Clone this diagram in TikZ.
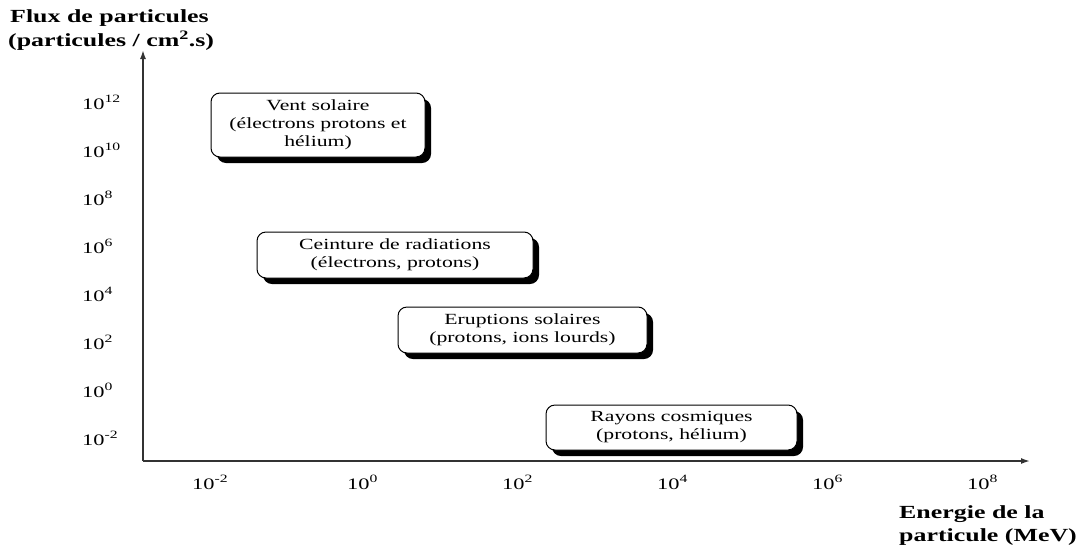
\documentclass[tikz,border=0pt]{standalone}
\usepackage{fontspec}
\setmainfont{Liberation Serif}[FakeStretch=1.4]
\usetikzlibrary{arrows.meta,shadows}
\newcommand{\pw}[1]{10\textsuperscript{#1}}

\begin{document}
\begin{tikzpicture}[x=1pt,y=-1pt,%
  axe/.style={-{Latex[length=9pt,width=6pt]},line width=1.6pt,black!80},%
  boite/.style={draw,line width=1pt,rounded corners=9pt,fill=white,align=center,%
    font=\fontsize{15.5}{18}\selectfont,%
    drop shadow={shadow xshift=6pt,shadow yshift=-6pt,fill=black,opacity=1}},%
  tick/.style={font=\fontsize{16}{18}\selectfont,inner sep=0pt,anchor=base west},%
  titre/.style={font=\bfseries\fontsize{18.5}{22}\selectfont,inner sep=0pt,anchor=base west}%
  ]
  \useasboundingbox (0,0) rectangle (1083,544);
%
  \coordinate (o) at (143,461);
  \coordinate (ytop) at (143,50);
  \coordinate (xend) at (1030,461);
  \draw[axe] (o) -- (ytop);
  \draw[axe] (o) -- (xend);
%
  \foreach \e [count=\i from 0] in {12,10,8,6,4,2,0,-2}
    \node (y\i) [tick] at (82,109+48*\i) {\pw{\e}};
  \foreach \e [count=\i from 0] in {-2,0,2,4,6,8}
    \node (x\i) [tick] at (192+155*\i,489) {\pw{\e}};
%
  \node (yt1) [titre] at (10,22) {Flux de particules};
  \node (yt2) [titre] at (8,46) {(particules / cm\textsuperscript{2}.s)};
  \node (xt1) [titre] at (899,518) {Energie de la};
  \node (xt2) [titre] at (899,541) {particule (MeV)};
%
  \node (vent) [boite,minimum width=214pt,minimum height=64pt] at (318,125)
    {Vent solaire\\(électrons protons et\\hélium)};
  \node (ceint) [boite,minimum width=276pt,minimum height=46pt] at (395,255)
    {Ceinture de radiations\\(électrons, protons)};
  \node (erupt) [boite,minimum width=249pt,minimum height=46pt] at (522.5,330)
    {Eruptions solaires\\(protons, ions lourds)};
  \node (rayons) [boite,minimum width=251pt,minimum height=45pt] at (671.5,427.5)
    {Rayons cosmiques\\(protons, hélium)};
%
\end{tikzpicture}
\end{document}
